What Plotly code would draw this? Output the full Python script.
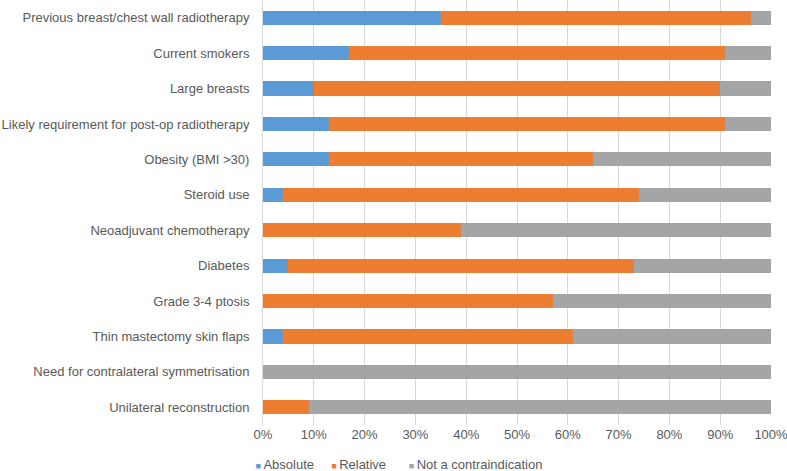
import plotly.graph_objects as go

categories = [
    "Previous breast/chest wall radiotherapy",
    "Current smokers",
    "Large breasts",
    "Likely requirement for post-op radiotherapy",
    "Obesity (BMI >30)",
    "Steroid use",
    "Neoadjuvant chemotherapy",
    "Diabetes",
    "Grade 3-4 ptosis",
    "Thin mastectomy skin flaps",
    "Need for contralateral symmetrisation",
    "Unilateral reconstruction",
]
absolute = [35, 17, 10, 13, 13, 4, 0, 5, 0, 4, 0, 0]
relative = [61, 74, 80, 78, 52, 70, 39, 68, 57, 57, 0, 9]
not_contra = [4, 9, 10, 9, 35, 26, 61, 27, 43, 39, 100, 91]
x_ticks = [0, 10, 20, 30, 40, 50, 60, 70, 80, 90, 100]
x_tick_labels = [f"{v}%" for v in x_ticks]

series = [
    ("Absolute", absolute, "#5B9BD5"),
    ("Relative", relative, "#ED7D31"),
    ("Not a contraindication", not_contra, "#A5A5A5"),
]
legend_ids = ["legend", "legend2", "legend3"]
legend_x = [-0.0935, 0.0555, 0.2081]

font_color = "#595959"
fig = go.Figure()
for (name, vals, color), lid in zip(series, legend_ids):
    fig.add_trace(go.Bar(
        y=categories, x=vals, name=name, orientation="h",
        marker=dict(color=color, line=dict(width=0)),
        hoverinfo="x+y+name", showlegend=False, legendgroup=name,
    ))
    # legend entry: small coloured square placed tight to the label, as in the original
    fig.add_trace(go.Scatter(
        x=[None], y=[None], mode="markers", legend=lid, legendgroup=name,
        name=f'<span style="color:{color};font-size:9px">■ </span>{name}',
        marker=dict(symbol="square", size=0, opacity=0, color="rgba(0,0,0,0)",
                    line=dict(width=0)),
        hoverinfo="skip",
    ))

legend_common = dict(orientation="h", xanchor="left", y=0.0148, yref="container",
                     yanchor="middle", font=dict(size=13, color=font_color),
                     itemwidth=30, bgcolor="rgba(0,0,0,0)")
fig.update_layout(
    barmode="stack",
    bargap=0.6,
    width=787, height=471,
    margin=dict(l=263, r=16, t=0, b=46, autoexpand=False),
    paper_bgcolor="white", plot_bgcolor="white",
    font=dict(family="Liberation Sans, Arial, sans-serif", size=13, color=font_color),
    legend=dict(x=legend_x[0], **legend_common),
    legend2=dict(x=legend_x[1], **legend_common),
    legend3=dict(x=legend_x[2], **legend_common),
    xaxis=dict(range=[0, 100], tickvals=x_ticks, ticktext=x_tick_labels,
               showgrid=True, gridcolor="#D9D9D9", gridwidth=1,
               zeroline=False, showline=False, ticks="", fixedrange=True,
               ticklabeloverflow="allow"),
    yaxis=dict(autorange="reversed", showgrid=False, ticks="",
               showline=True, linecolor="#D9D9D9", linewidth=1,
               ticklabelstandoff=10, automargin=False),
)

fig.write_html("out.html", config={"displayModeBar": False},
               post_script="document.body.style.margin='0';")
